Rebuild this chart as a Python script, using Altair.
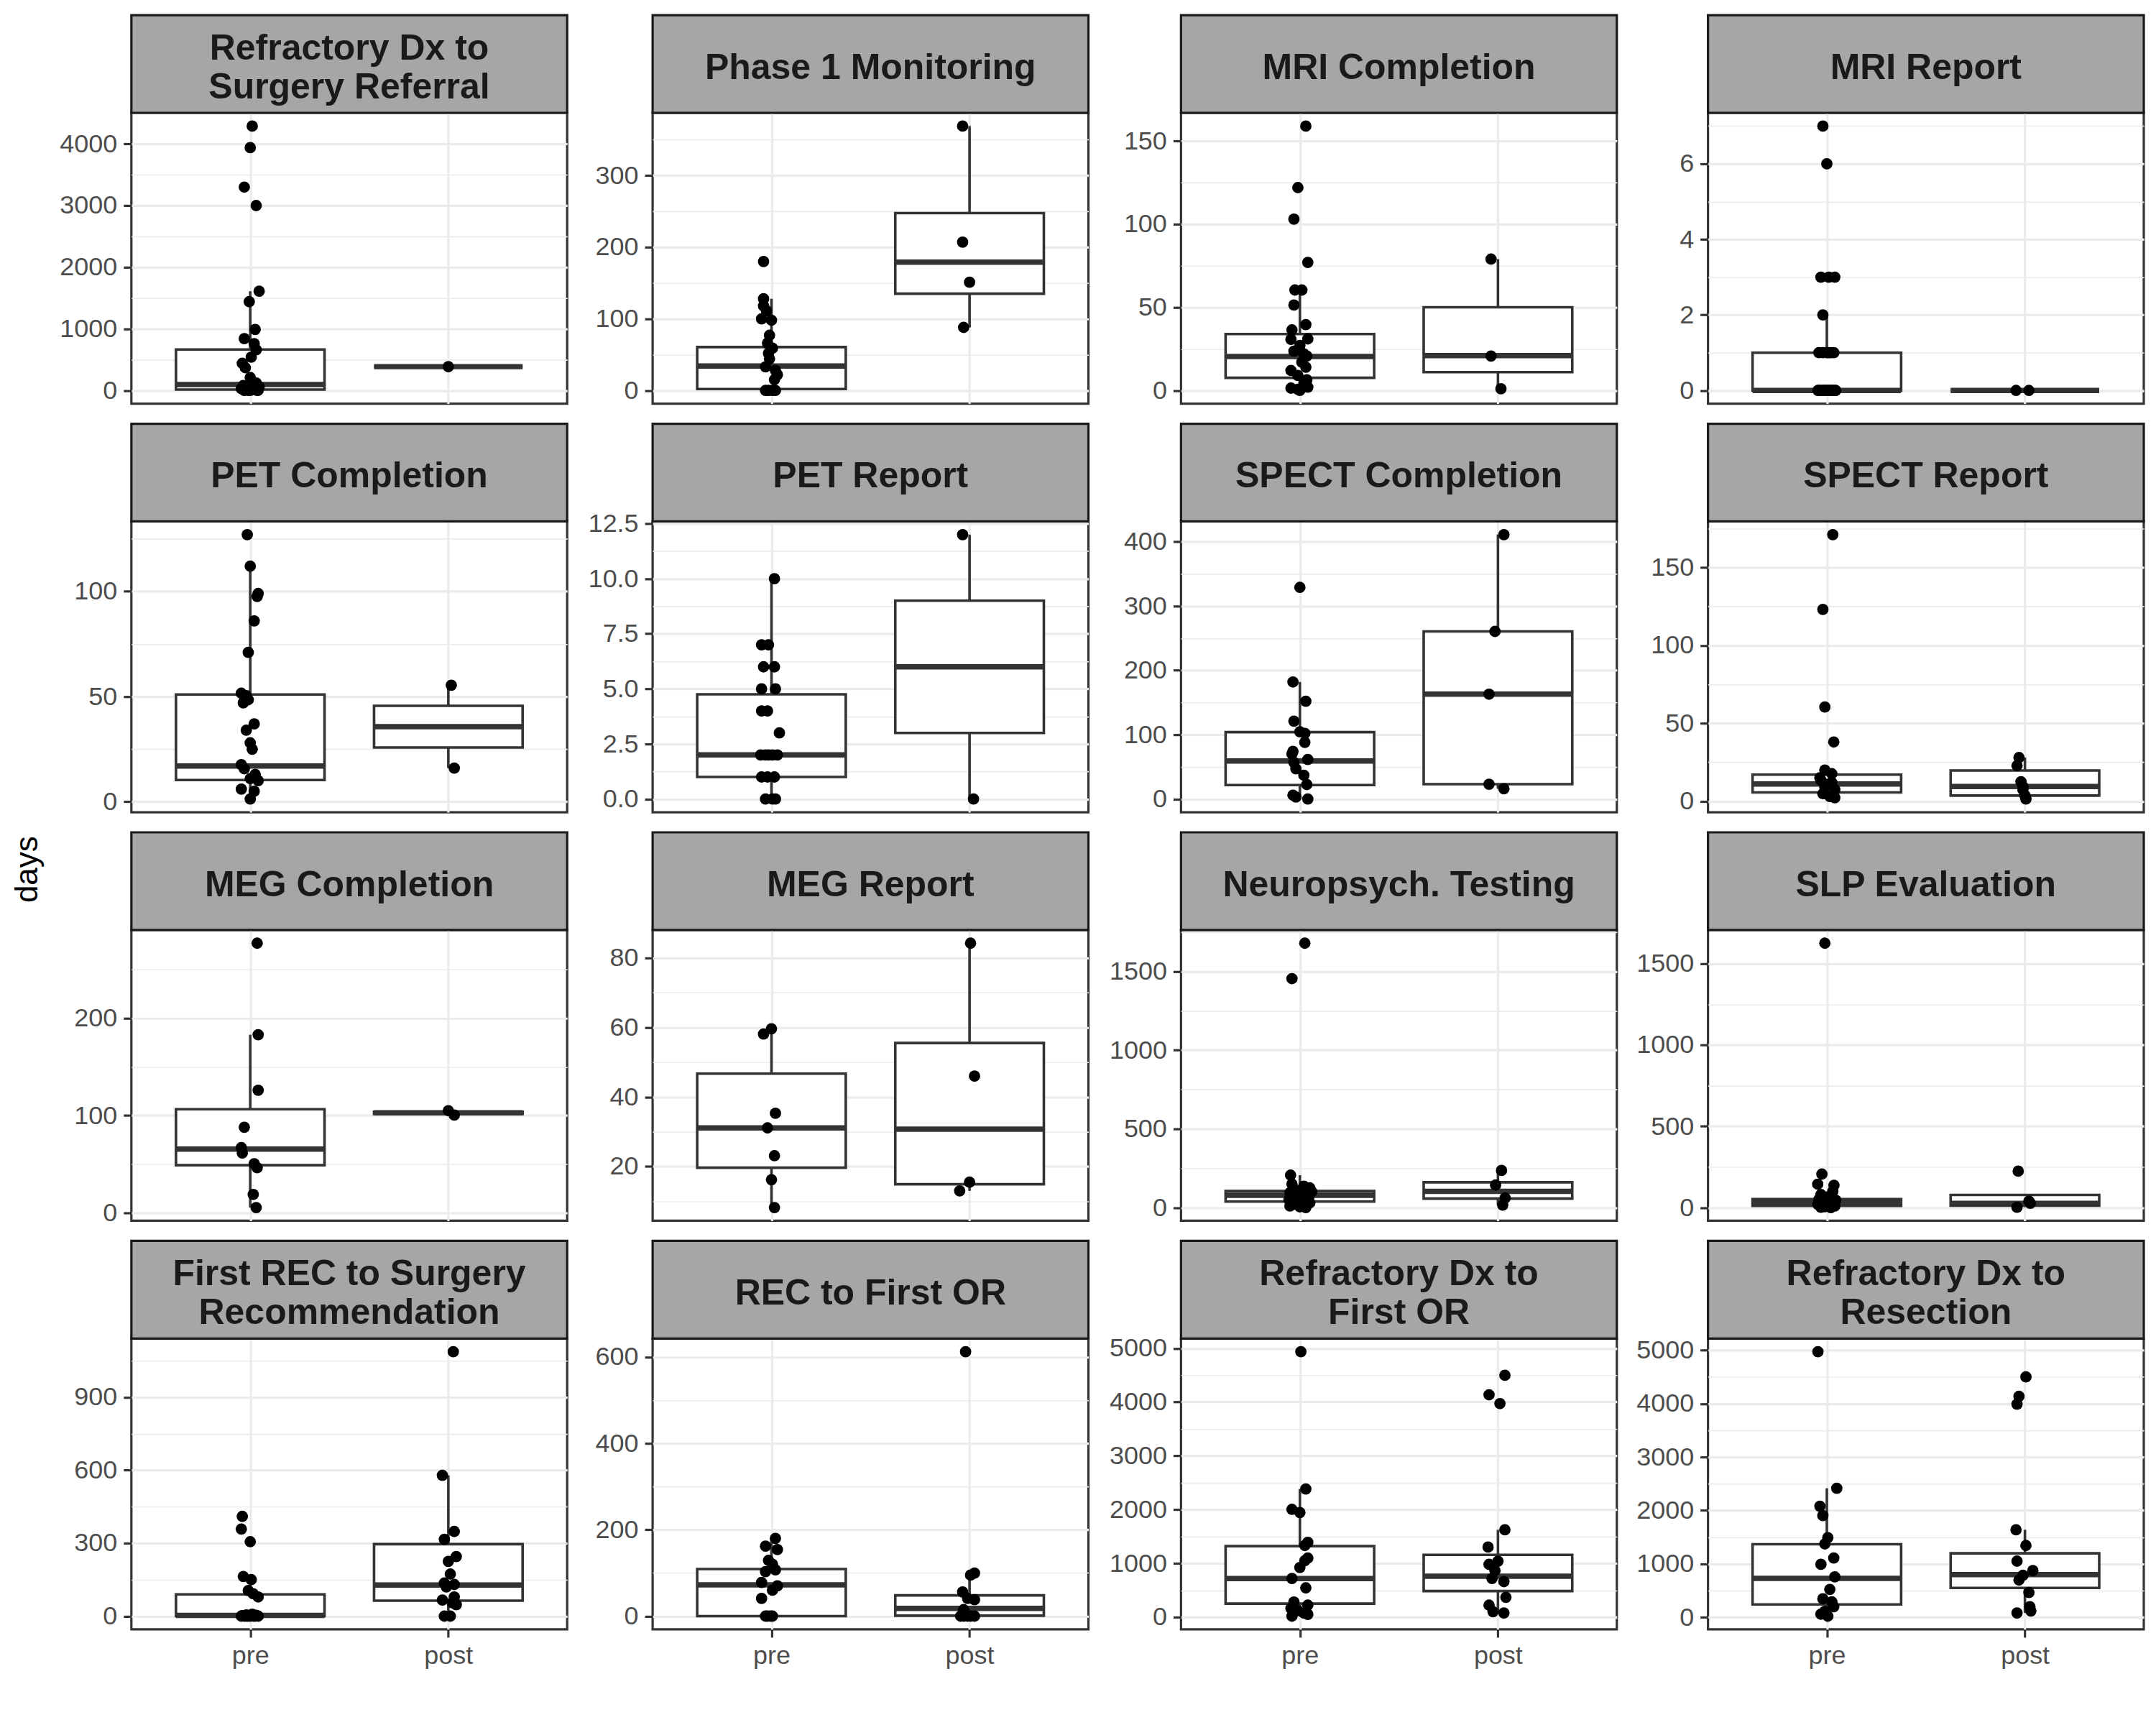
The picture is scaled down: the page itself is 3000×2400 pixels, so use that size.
import altair as alt
import pandas as pd

# ---------------- data ----------------
titles = [
    "Refractory Dx to\nSurgery Referral", "Phase 1 Monitoring", "MRI Completion", "MRI Report",
    "PET Completion", "PET Report", "SPECT Completion", "SPECT Report",
    "MEG Completion", "MEG Report", "Neuropsych. Testing", "SLP Evaluation",
    "First REC to Surgery\nRecommendation", "REC to First OR", "Refractory Dx to\nFirst OR",
    "Refractory Dx to\nResection",
]
group_labels = ["pre", "post"]

major_ticks = [
    [0, 1000, 2000, 3000, 4000], [0, 100, 200, 300], [0, 50, 100, 150], [0, 2, 4, 6],
    [0, 50, 100], [0, 2.5, 5, 7.5, 10, 12.5], [0, 100, 200, 300, 400], [0, 50, 100, 150],
    [0, 100, 200], [20, 40, 60, 80], [0, 500, 1000, 1500], [0, 500, 1000, 1500],
    [0, 300, 600, 900], [0, 200, 400, 600], [0, 1000, 2000, 3000, 4000, 5000],
    [0, 1000, 2000, 3000, 4000, 5000],
]
tick_formats = ["d", "d", "d", "d", "d", ".1f", "d", "d", "d", "d", "d", "d", "d", "d", "d", "d"]

# box statistics [lower whisker, q1, median, q3, upper whisker]
box_pre = [
    [0, 15, 95, 665, 1610], [0, 2, 34, 60.5, 128], [0, 7.6, 20.4, 33.9, 60.4], [0, 0, 0, 1, 2],
    [1.3, 10.3, 17, 51, 112], [0, 1, 2, 4.75, 10], [0, 21.7, 59, 104, 182], [2.2, 5.6, 11, 17, 20],
    [5.5, 49, 65.6, 106.5, 183], [8.2, 19.65, 31.1, 46.7, 59.6], [0, 38, 78, 105, 206], [0, 10, 30, 52, 100],
    [0, 0, 3, 89.5, 163], [0, 0, 72.4, 109, 180], [18, 251, 718, 1320, 2383], [23, 241, 729, 1369, 2415],
]
box_post = [
    [386, 386, 386, 386, 386], [88, 135, 179, 247.5, 369], [1, 11, 21, 50, 79], [0, 0, 0, 0, 0],
    [16, 25.8, 35.7, 45.6, 55.4], [0, 3, 6, 9, 12], [16, 23, 163, 260.5, 411], [1.4, 3.6, 9.4, 19.7, 28],
    [100.5, 101.6, 102.75, 103.9, 105], [13, 14.9, 30.75, 55.5, 84.2], [16, 57, 103, 161, 236], [2, 12, 26, 78, 78],
    [0, 63.5, 128, 296, 579], [0, 1, 18, 48, 99.5], [76, 485, 759, 1157, 1624], [82, 552, 799, 1199, 1639],
]

# points: (days, horizontal jitter)
p01_pre = [(4290, .01), (3940, 0), (3300, -.03), (3000, .03), (1610, .045), (1440, -.005), (990, .025),
           (840, -.03), (760, .02), (660, .03), (540, .005), (440, -.04), (370, -.025), (210, 0), (120, .03),
           (80, -.035), (60, .045), (40, .01), (30, -.045), (15, .02), (5, .04), (0, -.01), (0, .035),
           (0, -.03), (0, 0)]
p01_post = [(386, 0)]
p02_pre = [(180, -.04), (128, -.04), (118, -.04), (111, -.025), (100, -.05), (98, 0), (77, -.01), (66, -.02),
           (59, .005), (52, -.015), (44, -.01), (33, -.03), (28, .02), (22, .03), (15, .015), (0, -.03),
           (0, .005), (0, .02), (0, -.015)]
p02_post = [(369, -.035), (207, -.035), (151, 0), (88, -.03)]
p03_pre = [(159, .03), (122, -.01), (103, -.03), (77, .04), (60.4, -.025), (60.4, .01), (51.4, -.03),
           (39.6, .03), (36.4, -.04), (31, .04), (30.7, -.045), (27, 0), (23.6, -.03), (22, .02), (20.7, .035),
           (17, .01), (14, .03), (12, -.045), (9, -.01), (6.4, .035), (4, .02), (2, .04), (1.4, -.045),
           (0.7, -.01), (0, 0)]
p03_post = [(79, -.035), (20.7, -.035), (1, .015)]
p04_pre = [(7, -.02), (6, 0), (3, -.03), (3, .01), (3, .04), (2, -.02), (1, -.04), (1, -.02), (1, 0), (1, .02),
           (1, .035), (1, .01), (0, -.045), (0, -.03), (0, -.015), (0, 0), (0, .015), (0, .03), (0, .045),
           (0, -.04), (0, -.02), (0, .01), (0, .025), (0, .04), (0, -.01), (0, .005)]
p04_post = [(0, -.045), (0, .02)]
p05_pre = [(127, -.015), (112, 0), (99, .04), (97.6, .035), (86, .02), (71, -.01), (51.6, -.045), (50.4, -.02),
           (48.5, -.01), (47, -.035), (37, .02), (34, -.02), (28, 0), (25, .01), (17.6, -.045), (15.7, -.03),
           (13, .025), (11, 0), (10, .04), (6, -.045), (5, .02), (1.3, 0)]
p05_post = [(55.4, .015), (16, .03)]
p06_pre = [(10, .015), (7, -.05), (7, -.015), (6, -.04), (6, .015), (5, -.05), (5, .02), (4, -.05), (4, -.02),
           (3, .04), (2, -.055), (2, -.015), (2, .03), (2, .005), (2, -.03), (1, -.05), (1, .015), (1, -.02),
           (0, -.03), (0, .005), (0, .02)]
p06_post = [(12, -.035), (0, .02)]
p07_pre = [(329, 0), (182, -.035), (152, .03), (121, -.03), (104.5, 0), (102, .025), (88, .025), (74, -.035),
           (70, -.04), (61.5, .04), (57, -.03), (47, -.02), (37, .02), (22.5, .035), (6, -.035), (3, -.02),
           (0, .04)]
p07_post = [(411, .03), (260.5, -.015), (163, -.045), (23, -.045), (16, .03)]
p08_pre = [(171, .03), (123, -.02), (60.4, -.01), (38, .035), (20, -.01), (17.6, .025), (15, -.035),
           (13.4, -.03), (12, .025), (10.8, .005), (9, -.01), (7.4, .04), (4.8, -.02), (3, .015), (2.2, .04)]
p08_post = [(28, -.03), (22.8, -.04), (12.5, -.02), (9.4, -.01), (7.4, -.01), (3.6, 0), (1.4, .005)]
p09_pre = [(277, .035), (183, .04), (126, .04), (88, -.03), (67, -.045), (61.5, -.04), (50.5, .02),
           (46.4, .035), (19, .015), (5.5, .03)]
p09_post = [(105, 0), (100.5, .03)]
p10_pre = [(59.6, 0), (58.1, -.04), (35.3, .02), (31.1, -.02), (23.1, .015), (16.2, 0), (8.2, .015)]
p10_post = [(84.2, .005), (46, .025), (15.5, 0), (13, -.05)]
p11_pre = [(1680, .025), (1455, -.04), (206, -.047), (150, -.04), (136, .02), (125, .05), (110, -.02),
           (100, .06), (95, -.05), (85, .03), (80, 0), (70, -.03), (65, .045), (60, .01), (50, -.055),
           (45, .035), (40, -.01), (30, .05), (20, -.035), (15, .02), (10, -.05), (5, 0), (0, .03)]
p11_post = [(236, .018), (143, -.012), (61, .036), (16, .024)]
p12_pre = [(1627, -.01), (206, -.025), (144, -.046), (137, .036), (100, .03), (80, -.03), (65, .01), (50, -.04),
           (45, .045), (35, 0), (30, -.02), (25, .03), (20, -.045), (15, .015), (10, .04), (5, -.01),
           (2, -.03), (0, .02)]
p12_post = [(224, -.034), (40, .02), (26, .027), (2, -.04)]
p13_pre = [(410, -.04), (358, -.045), (306, 0), (163, -.035), (150, .005), (105, -.01), (92, .015), (79, .04),
           (8, .01), (5, -.02), (3, .03), (2, -.04), (0, -.045), (0, -.02), (0, 0), (0, .025), (0, .04),
           (0, -.03), (0, .015), (0, -.01)]
p13_post = [(1087, .025), (579, -.03), (348, .03), (316, -.02), (245, .04), (225, 0), (173, .01), (136, -.02),
            (130, .03), (120, -.01), (79, .03), (66, -.03), (55, .02), (47, .04), (0, -.02), (0, .01)]
p14_pre = [(180, .02), (162, -.03), (154, .03), (129, -.015), (120, .005), (107, .02), (103, -.03), (78, -.05),
           (70, .03), (60, .005), (41, -.05), (0, -.03), (0, .005), (0, -.02), (0, -.005)]
p14_post = [(612, -.02), (99.5, .025), (95, .005), (56, -.035), (41, -.01), (38, .025), (15, -.03),
            (0, -.045), (0, -.01), (0, .025), (0, -.03), (0, .005)]
p15_pre = [(4936, .005), (2383, .03), (2004, -.04), (1946, 0), (1390, .04), (1332, .025), (1098, .04),
           (1050, .025), (923, 0), (718, -.04), (543, .03), (280, -.03), (222, .04), (164, -.045), (120, -.01),
           (76, .02), (50, .04), (18, -.04)]
p15_post = [(4498, .035), (4136, -.045), (3972, .01), (1624, .035), (1303, -.05), (1040, 0), (981, -.045),
            (864, -.015), (718, -.03), (660, .03), (368, .04), (222, -.045), (100, -.025), (76, .03)]
p16_pre = [(4971, -.045), (2415, .05), (2080, -.035), (1904, -.02), (1492, .005), (1375, -.01), (1110, .035),
           (993, -.03), (758, .04), (523, .015), (347, -.02), (290, .025), (200, .035), (112, -.01),
           (60, -.03), (23, .005)]
p16_post = [(4500, .005), (4136, -.03), (3990, -.04), (1639, -.045), (1345, .005), (1052, -.04), (875, .04),
            (787, -.01), (699, -.03), (464, .02), (200, .025), (120, .03), (82, -.04)]

point_sets = [
    (p01_pre, p01_post), (p02_pre, p02_post), (p03_pre, p03_post), (p04_pre, p04_post),
    (p05_pre, p05_post), (p06_pre, p06_post), (p07_pre, p07_post), (p08_pre, p08_post),
    (p09_pre, p09_post), (p10_pre, p10_post), (p11_pre, p11_post), (p12_pre, p12_post),
    (p13_pre, p13_post), (p14_pre, p14_post), (p15_pre, p15_post), (p16_pre, p16_post),
]

# ---------------- styling ----------------
W, H, SH = 607, 405, 136
AXIS_EXT = [110, 100, 110, 108]   # y-axis space per column
FONT = "Liberation Sans"
DARK = "#333333"
GRID = "#EBEBEB"
LW = 3.6
LINE_H = 54


def minor_breaks(majors, lo, hi):
    step = majors[1] - majors[0]
    ext = [majors[0] - step] + list(majors) + [majors[-1] + step]
    mids = [(a + b) / 2 for a, b in zip(ext[:-1], ext[1:])]
    return [m for m in mids if lo <= m <= hi]


def make_panel(i, show_x):
    pre, post = point_sets[i]
    pts = pd.DataFrame({
        "days": [v for v, _ in pre] + [v for v, _ in post],
        "g": [1] * len(pre) + [2] * len(post),
        "j": [j for _, j in pre] + [j for _, j in post],
    })
    bp, bq = box_pre[i], box_post[i]
    box = pd.DataFrame({
        "g": [1, 2],
        "lo": [bp[0], bq[0]], "q1": [bp[1], bq[1]], "med": [bp[2], bq[2]],
        "q3": [bp[3], bq[3]], "hi": [bp[4], bq[4]],
    })
    allv = pts["days"].tolist() + bp + bq
    lo, hi = min(allv), max(allv)
    r = hi - lo
    dom = [lo - 0.05 * r, hi + 0.05 * r]
    majors = major_ticks[i]
    mins = minor_breaks(majors, dom[0], dom[1])
    minor_test = "indexof([%s], datum.value) < 0" % ",".join(str(m) for m in majors)
    ext = AXIS_EXT[i % 4]

    ys = alt.Scale(domain=dom, nice=False, zero=False)
    xs = alt.Scale(domain=[0.4, 2.6], nice=False, zero=False)
    yaxis = alt.Axis(
        values=sorted(list(majors) + mins), format=tick_formats[i],
        labelExpr=f"({minor_test}) ? '' : datum.label",
        title=None, domain=False, grid=True, gridColor=GRID,
        gridWidth={"condition": {"test": minor_test, "value": 1.6}, "value": 3.2},
        tickOpacity={"condition": {"test": minor_test, "value": 0}, "value": 1},
        tickSize=11, tickWidth=3.2, tickColor=DARK,
        labelFont=FONT, labelFontSize=36, labelColor="#4D4D4D", labelPadding=9,
        labelOverlap=False, labelFlush=False, minExtent=ext, maxExtent=ext,
    )
    xkw = dict(
        values=[1, 2], labelExpr="datum.value == 1 ? '%s' : '%s'" % (group_labels[0], group_labels[1]),
        title=None, domain=False, grid=True, gridColor=GRID, gridWidth=3.2,
        ticks=show_x, labels=show_x, tickSize=11, tickWidth=3.2, tickColor=DARK,
        labelFont=FONT, labelFontSize=36, labelColor="#4D4D4D", labelPadding=9,
        labelAngle=0, labelFlush=False, labelOverlap=False,
    )
    if not show_x:
        xkw.update(minExtent=10, maxExtent=10)
    xaxis = alt.Axis(**xkw)

    n_lines = titles[i].count("\n") + 1
    strip_df = pd.DataFrame({"label": [titles[i]]})
    strip_bg = alt.Chart(strip_df).mark_rect(
        fill="#A6A6A6", stroke="#1A1A1A", strokeWidth=3.2
    ).encode(x=alt.value(0), x2=alt.value(W), y=alt.value(-SH), y2=alt.value(0))
    strip_tx = alt.Chart(strip_df).mark_text(
        font=FONT, fontSize=50, fontWeight="bold", color="#1A1A1A", lineBreak="\n",
        lineHeight=LINE_H, align="center", baseline="middle",
        dy=-(n_lines - 1) * LINE_H / 2 + 6
    ).encode(x=alt.value(W / 2), y=alt.value(-SH / 2), text="label:N")

    bbase = alt.Chart(box)
    whisk_lo = bbase.mark_rule(color=DARK, strokeWidth=LW).encode(
        x=alt.X("g:Q", scale=xs, axis=xaxis), y=alt.Y("lo:Q", scale=ys, axis=yaxis), y2="q1:Q")
    whisk_hi = bbase.mark_rule(color=DARK, strokeWidth=LW).encode(
        x=alt.X("g:Q", scale=xs, axis=xaxis), y=alt.Y("q3:Q", scale=ys, axis=yaxis), y2="hi:Q")
    bwide = bbase.transform_calculate(xl="datum.g - 0.375", xr="datum.g + 0.375")
    rect = bwide.mark_rect(fill="white", stroke=DARK, strokeWidth=LW).encode(
        x=alt.X("xl:Q", scale=xs, axis=xaxis), x2="xr:Q",
        y=alt.Y("q1:Q", scale=ys, axis=yaxis), y2="q3:Q")
    median = bwide.mark_rule(color=DARK, strokeWidth=7.5).encode(
        x=alt.X("xl:Q", scale=xs, axis=xaxis), x2="xr:Q", y=alt.Y("med:Q", scale=ys, axis=yaxis))
    points = alt.Chart(pts).transform_calculate(xp="datum.g + datum.j").mark_circle(
        size=250, color="black", opacity=1
    ).encode(x=alt.X("xp:Q", scale=xs, axis=xaxis), y=alt.Y("days:Q", scale=ys, axis=yaxis))

    return alt.layer(strip_bg, strip_tx, whisk_lo, whisk_hi, rect, median, points).properties(
        width=W, height=H)


panels = [make_panel(i, show_x=(i >= 12)) for i in range(16)]

chart = alt.concat(
    *panels, columns=4, spacing={"row": 12, "column": 13}, align="each"
).properties(
    title=alt.TitleParams("days", orient="left", anchor="middle", fontSize=44, font=FONT,
                          fontWeight="normal", color="black", offset=10, dx=-39),
    padding={"left": 9, "top": 8, "right": 5, "bottom": 5},
).configure_view(stroke=DARK, strokeWidth=3.2)

chart.save("out.html", embed_options={"renderer": "svg", "actions": False})
